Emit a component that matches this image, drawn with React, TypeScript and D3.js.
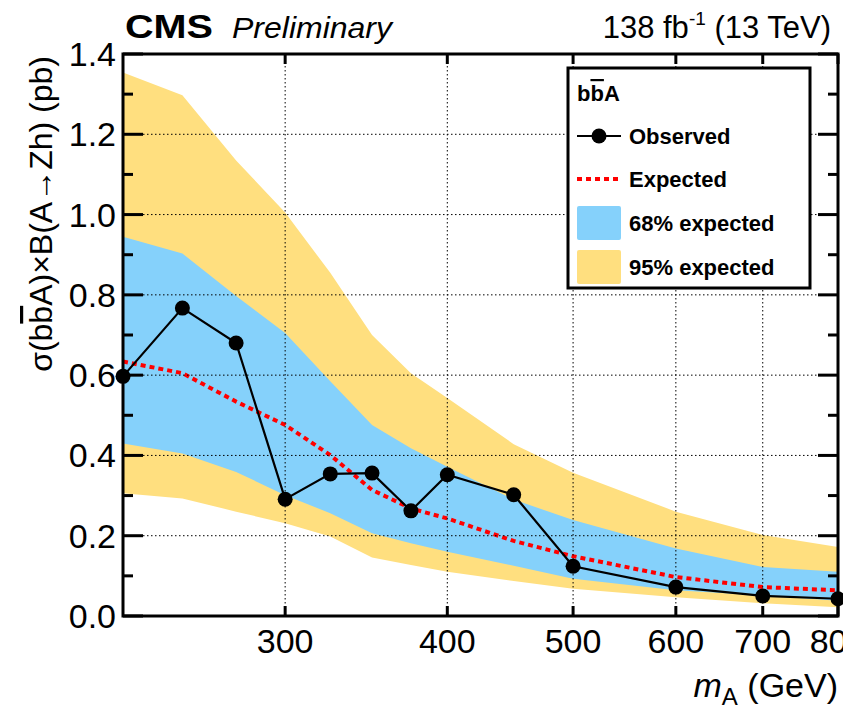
import React, { useEffect, useRef } from "react";
import * as d3 from "d3";

// mass points (GeV)
const masses = [225, 250, 275, 300, 325, 350, 375, 400, 450, 500, 600, 700, 800];
const observed = [0.597, 0.767, 0.68, 0.291, 0.354, 0.356, 0.262, 0.352, 0.302, 0.124, 0.072, 0.05, 0.043];
const expected = [0.634, 0.605, 0.534, 0.476, 0.401, 0.314, 0.268, 0.243, 0.187, 0.149, 0.097, 0.072, 0.064];
const up95 = [1.354, 1.297, 1.135, 1.005, 0.855, 0.7, 0.605, 0.543, 0.428, 0.357, 0.26, 0.202, 0.172];
const up68 = [0.945, 0.903, 0.797, 0.705, 0.585, 0.476, 0.418, 0.372, 0.29, 0.239, 0.168, 0.122, 0.11];
const lo68 = [0.43, 0.405, 0.359, 0.301, 0.256, 0.206, 0.181, 0.16, 0.125, 0.093, 0.064, 0.051, 0.038];
const lo95 = [0.306, 0.293, 0.26, 0.231, 0.198, 0.146, 0.127, 0.11, 0.087, 0.068, 0.047, 0.032, 0.022];

const xTicks = [300, 400, 500, 600, 700, 800];
const yMajor = [0, 0.2, 0.4, 0.6, 0.8, 1.0, 1.2, 1.4];
const yMinor = [0.1, 0.3, 0.5, 0.7, 0.9, 1.1, 1.3];

const C68 = "#85d1fb";
const C95 = "#ffdf7f";
const FONT = "'Liberation Sans', Arial, Helvetica, sans-serif";

export default function App() {
  const ref = useRef<SVGSVGElement>(null);

  useEffect(() => {
    const width = 843;
    const height = 714;
    const m = { left: 123, right: 838, top: 54, bottom: 616 };
    const svg = d3.select(ref.current).attr("width", width).attr("height", height);
    svg.selectAll("*").remove();

    const x = d3.scaleLog().domain([225, 800]).range([m.left, m.right]);
    const y = d3.scaleLinear().domain([0, 1.4]).range([m.bottom, m.top]);
    const idx = masses.map((_, i) => i);

    const clip = svg.append("clipPath").attr("id", "plotclip");
    clip.append("rect").attr("x", m.left).attr("y", m.top).attr("width", m.right - m.left).attr("height", m.bottom - m.top);
    const plot = svg.append("g").attr("clip-path", "url(#plotclip)");

    const band = (lo: number[], hi: number[]) =>
      d3.area<number>().x((i) => x(masses[i])).y0((i) => y(lo[i])).y1((i) => y(hi[i]));

    plot.append("path").attr("d", band(lo95, up95)(idx)).attr("fill", C95);
    plot.append("path").attr("d", band(lo68, up68)(idx)).attr("fill", C68);

    // grid
    const grid = svg.append("g").attr("stroke", "#000").attr("stroke-width", 1).attr("stroke-dasharray", "1.5,2.5");
    grid.selectAll(".gx").data(xTicks.filter((v) => v < 800)).join("line")
      .attr("x1", (d) => x(d)).attr("x2", (d) => x(d)).attr("y1", m.top).attr("y2", m.bottom);
    grid.selectAll(".gy").data(yMajor.filter((v) => v > 0 && v < 1.4)).join("line")
      .attr("x1", m.left).attr("x2", m.right).attr("y1", (d) => y(d)).attr("y2", (d) => y(d));

    // expected
    const line = (vals: number[]) => d3.line<number>().x((i) => x(masses[i])).y((i) => y(vals[i]));
    plot.append("path").attr("d", line(expected)(idx)).attr("fill", "none")
      .attr("stroke", "#ff0000").attr("stroke-width", 4).attr("stroke-dasharray", "5,4");

    // observed
    plot.append("path").attr("d", line(observed)(idx)).attr("fill", "none")
      .attr("stroke", "#000").attr("stroke-width", 2.2);
    svg.selectAll(".pt").data(idx).join("circle")
      .attr("cx", (i) => x(masses[i])).attr("cy", (i) => y(observed[i])).attr("r", 7.5).attr("fill", "#000");

    // ticks
    const ticks = svg.append("g").attr("stroke", "#000").attr("stroke-width", 3);
    ticks.selectAll(".ty").data(yMajor).join("line")
      .attr("x1", m.left).attr("x2", m.left + 20).attr("y1", (d) => y(d)).attr("y2", (d) => y(d));
    ticks.selectAll(".ty2").data(yMajor).join("line")
      .attr("x1", m.right).attr("x2", m.right - 20).attr("y1", (d) => y(d)).attr("y2", (d) => y(d));
    ticks.selectAll(".tym").data(yMinor).join("line")
      .attr("x1", m.left).attr("x2", m.left + 10).attr("y1", (d) => y(d)).attr("y2", (d) => y(d));
    ticks.selectAll(".tym2").data(yMinor).join("line")
      .attr("x1", m.right).attr("x2", m.right - 10).attr("y1", (d) => y(d)).attr("y2", (d) => y(d));
    ticks.selectAll(".tx").data(xTicks).join("line")
      .attr("x1", (d) => x(d)).attr("x2", (d) => x(d)).attr("y1", m.bottom).attr("y2", m.bottom - 10);
    ticks.selectAll(".tx2").data(xTicks).join("line")
      .attr("x1", (d) => x(d)).attr("x2", (d) => x(d)).attr("y1", m.top).attr("y2", m.top + 10);

    // frame
    svg.append("rect").attr("x", m.left).attr("y", m.top).attr("width", m.right - m.left).attr("height", m.bottom - m.top)
      .attr("fill", "none").attr("stroke", "#000").attr("stroke-width", 3);

    // tick labels
    svg.selectAll(".ly").data(yMajor).join("text")
      .attr("x", 116).attr("y", (d) => y(d) + 12).attr("text-anchor", "end")
      .attr("font-family", FONT).attr("font-size", 34).text((d) => d3.format(".1f")(d));
    svg.selectAll(".lx").data(xTicks).join("text")
      .attr("x", (d) => x(d)).attr("y", 653).attr("text-anchor", "middle")
      .attr("font-family", FONT).attr("font-size", 34).text((d) => String(d));

    // axis titles
    const xt = svg.append("text").attr("x", 838).attr("y", 697).attr("text-anchor", "end")
      .attr("font-family", FONT).attr("font-size", 34);
    xt.append("tspan").attr("font-style", "italic").text("m");
    xt.append("tspan").attr("font-size", 24).attr("dy", 8).text("A");
    xt.append("tspan").attr("dy", -8).text(" (GeV)");

    const yt = svg.append("text").attr("transform", "translate(52,56) rotate(-90)").attr("text-anchor", "end")
      .attr("font-family", FONT).attr("font-size", 32);
    yt.append("tspan").text("σ(b");
    yt.append("tspan").attr("text-decoration", "overline").text("b");
    yt.append("tspan").text("A)×B(A→Zh) (pb)");

    // header
    svg.append("text").attr("x", 125).attr("y", 38).attr("font-family", FONT).attr("font-weight", "bold")
      .attr("font-size", 33).attr("textLength", 88).attr("lengthAdjust", "spacingAndGlyphs").text("CMS");
    svg.append("text").attr("x", 232).attr("y", 38).attr("font-family", FONT).attr("font-style", "italic")
      .attr("font-size", 29).attr("textLength", 160).attr("lengthAdjust", "spacingAndGlyphs").text("Preliminary");
    const lumi = svg.append("text").attr("x", 831).attr("y", 38).attr("text-anchor", "end")
      .attr("font-family", FONT).attr("font-size", 31);
    lumi.append("tspan").text("138 fb");
    lumi.append("tspan").attr("font-size", 19).attr("dy", -13).text("-1");
    lumi.append("tspan").attr("dy", 13).text(" (13 TeV)");

    // legend
    const lg = svg.append("g");
    lg.append("rect").attr("x", 568).attr("y", 68).attr("width", 242).attr("height", 220)
      .attr("fill", "#fff").attr("stroke", "#000").attr("stroke-width", 3);
    const head = lg.append("text").attr("x", 577).attr("y", 101).attr("font-family", FONT)
      .attr("font-weight", "bold").attr("font-size", 22);
    head.append("tspan").text("b");
    head.append("tspan").attr("text-decoration", "overline").text("b");
    head.append("tspan").text("A");

    const rows = [
      { label: "Observed", cy: 136, kind: "obs" },
      { label: "Expected", cy: 179, kind: "exp" },
      { label: "68% expected", cy: 223, kind: "b68" },
      { label: "95% expected", cy: 267, kind: "b95" },
    ];
    rows.forEach((r) => {
      if (r.kind === "obs") {
        lg.append("line").attr("x1", 577).attr("x2", 621).attr("y1", r.cy).attr("y2", r.cy)
          .attr("stroke", "#000").attr("stroke-width", 2.2);
        lg.append("circle").attr("cx", 599).attr("cy", r.cy).attr("r", 7.5).attr("fill", "#000");
      } else if (r.kind === "exp") {
        lg.append("line").attr("x1", 577).attr("x2", 621).attr("y1", r.cy).attr("y2", r.cy)
          .attr("stroke", "#ff0000").attr("stroke-width", 4).attr("stroke-dasharray", "5,4");
      } else {
        lg.append("rect").attr("x", 577).attr("y", r.cy - 17).attr("width", 44).attr("height", 34).attr("rx", 2)
          .attr("fill", r.kind === "b68" ? C68 : C95);
      }
      lg.append("text").attr("x", 629).attr("y", r.cy + 8).attr("font-family", FONT)
        .attr("font-weight", "bold").attr("font-size", 22).text(r.label);
    });
  }, []);

  return <svg ref={ref} style={{ position: "absolute", left: 0, top: 0 }} />;
}
